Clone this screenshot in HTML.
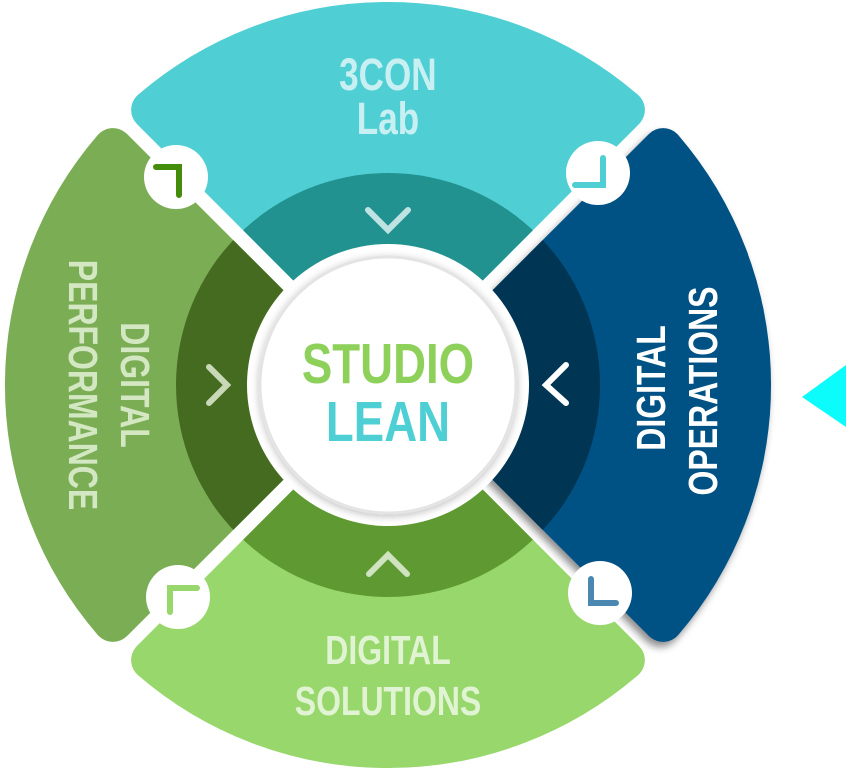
<!DOCTYPE html>
<html><head><meta charset="utf-8"><style>
html,body{margin:0;padding:0;background:#fff;}
svg{display:block;}
text{font-family:"Liberation Sans",sans-serif;font-weight:bold;text-anchor:middle;}
</style></head><body>
<svg width="858" height="775" viewBox="0 0 858 775" xmlns="http://www.w3.org/2000/svg">
<defs>
<path id="pet" d="M0,-38 L-236.9,-275.1 A363 363 0 0 1 236.9,-275.1 Z" stroke-width="40" stroke-linejoin="round"/>
<clipPath id="ring"><circle cx="0" cy="0" r="212"/></clipPath>
<filter id="sh" x="-20%" y="-20%" width="150%" height="140%"><feDropShadow dx="5" dy="3" stdDeviation="4" flood-color="#000" flood-opacity="0.45"/></filter>
<filter id="sh2" x="-20%" y="-20%" width="140%" height="140%"><feDropShadow dx="0" dy="2" stdDeviation="4" flood-color="#000" flood-opacity="0.25"/></filter>
</defs>
<g transform="translate(388,385)">
  <g transform="rotate(270)">
    <use href="#pet" fill="#7bad55" stroke="#7bad55"/>
    <use href="#pet" fill="#456b20" stroke="#456b20" clip-path="url(#ring)"/>
  </g>
  <g>
    <use href="#pet" fill="#4fcfd3" stroke="#4fcfd3"/>
    <use href="#pet" fill="#21928f" stroke="#21928f" clip-path="url(#ring)"/>
  </g>
  <g transform="rotate(180)">
    <use href="#pet" fill="#97d76b" stroke="#97d76b"/>
    <use href="#pet" fill="#5e9a31" stroke="#5e9a31" clip-path="url(#ring)"/>
  </g>
  <g transform="rotate(90)" filter="url(#sh)">
    <use href="#pet" fill="#035184" stroke="#035184"/>
    <use href="#pet" fill="#033552" stroke="#033552" clip-path="url(#ring)"/>
  </g>
  <circle cx="-212" cy="-208" r="32" fill="#fff"/>
  <circle cx="210" cy="-212" r="32" fill="#fff"/>
  <circle cx="212" cy="208" r="32" fill="#fff"/>
  <circle cx="-210" cy="212" r="32" fill="#fff"/>
  <circle cx="0" cy="0" r="141" fill="#fff"/>
  <circle cx="0" cy="0" r="128" fill="#fff" stroke="#e4e4e4" stroke-width="3" filter="url(#sh2)"/>
</g>
<g fill="none" stroke-width="6" stroke-linecap="round" stroke-linejoin="miter">
  <polyline points="156,167 179,167 179,195" stroke="#448c0c"/>
  <polyline points="603,158 603,185 575,185" stroke="#4fcfd3"/>
  <polyline points="591,579 591,603 616,603" stroke="#4a88b2"/>
  <polyline points="170,612 170,588 197,588" stroke="#97d76b"/>
</g>
<g fill="none" stroke-width="6" stroke-linecap="round">
  <polyline points="368,210 388,230 408,210" stroke="#bfe3e3"/>
  <polyline points="209,367 227,385 209,403" stroke="#c9d9b8"/>
  <polyline points="566,365 546,385 566,403" stroke="#ffffff"/>
  <polyline points="369,574 388,555 407,574" stroke="#cfe3c0"/>
</g>
<text transform="translate(366,90) scale(0.78,1)" font-size="45" fill="#c8f0f2" x="28" y="0">3CON</text>
<text transform="translate(388,134) scale(0.78,1)" font-size="45" fill="#c8f0f2">Lab</text>
<text transform="translate(388,664) scale(0.78,1)" font-size="41" fill="#e0f3d2">DIGITAL</text>
<text transform="translate(388,715) scale(0.78,1)" font-size="41" fill="#e0f3d2">SOLUTIONS</text>
<text transform="translate(121,385) rotate(90) scale(0.78,1)" font-size="41" fill="#d3e8c2">DIGITAL</text>
<text transform="translate(69,385) rotate(90) scale(0.78,1)" font-size="41" fill="#d3e8c2">PERFORMANCE</text>
<text transform="translate(665,388) rotate(-90) scale(0.78,1)" font-size="41" fill="#ffffff">DIGITAL</text>
<text transform="translate(717,391) rotate(-90) scale(0.78,1)" font-size="41" fill="#ffffff">OPERATIONS</text>
<text transform="translate(388,383) scale(0.8,1)" font-size="57" fill="#8dd05a">STUDIO</text>
<text transform="translate(388,441) scale(0.8,1)" font-size="57" fill="#4ecfd4">LEAN</text>
<polygon points="802,397 846,365 846,427" fill="#0cfcfc"/>
</svg>
</body></html>
